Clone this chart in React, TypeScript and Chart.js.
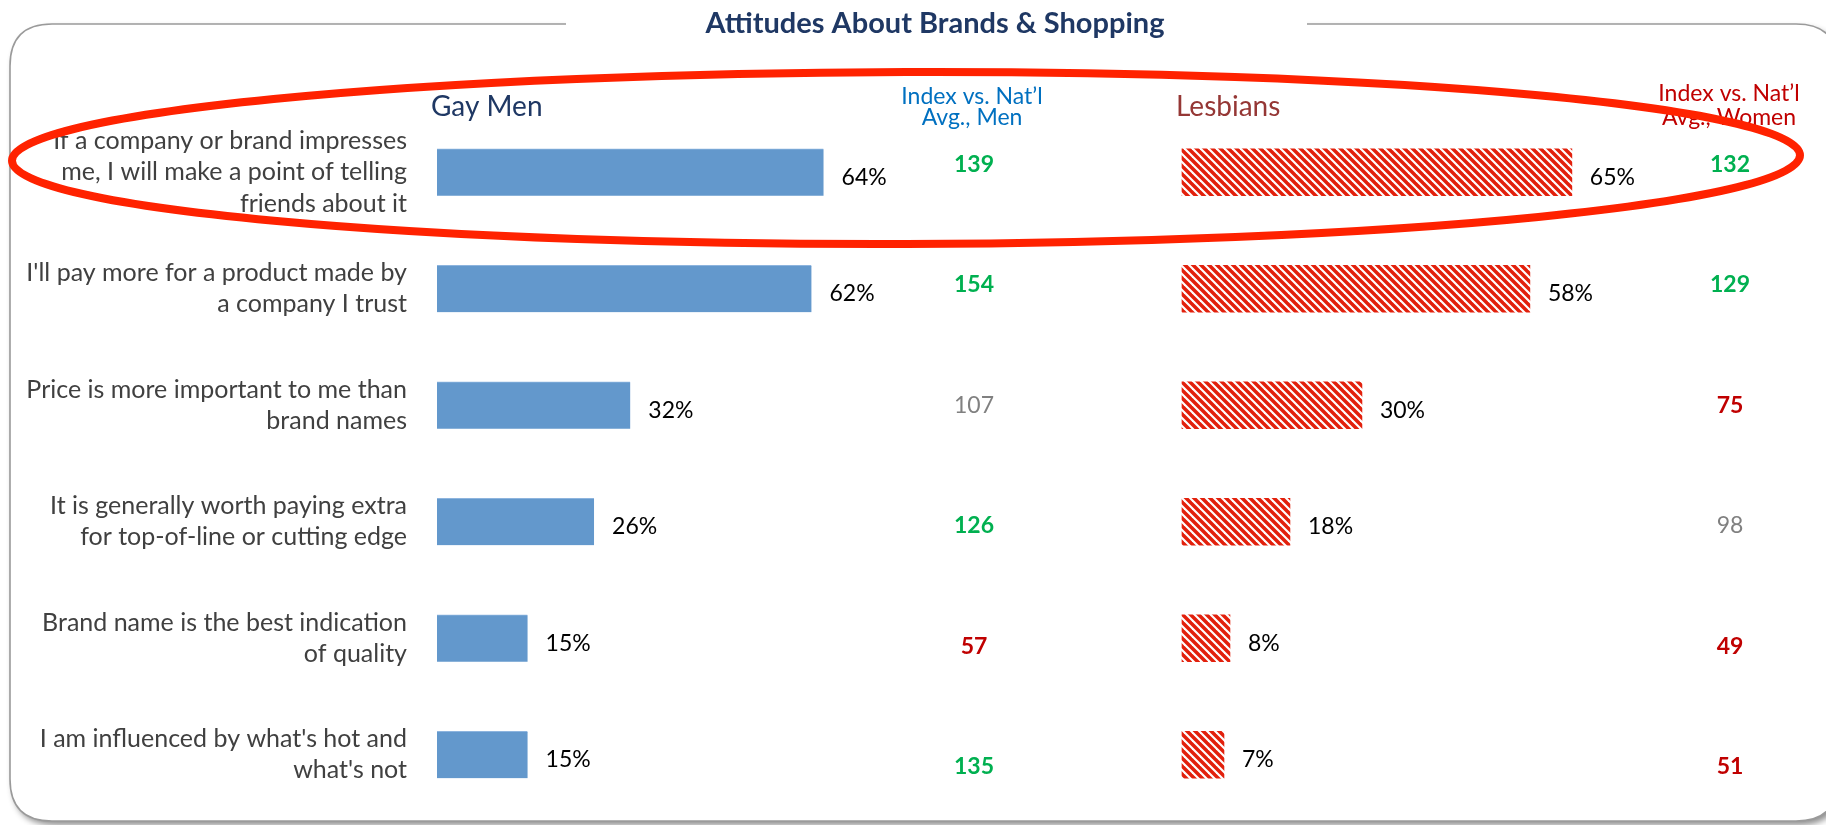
import React, { useEffect, useRef } from 'react';
import { Chart, registerables } from 'chart.js';
Chart.register(...registerables);

const categories: string[][] = [
  ['If a company or brand impresses', 'me, I will make a point of telling', 'friends about it'],
  ["I'll pay more for a product made by", 'a company I trust'],
  ['Price is more important to me than', 'brand names'],
  ['It is generally worth paying extra', 'for top-of-line or cutting edge'],
  ['Brand name is the best indication', 'of quality'],
  ["I am influenced by what's hot and", "what's not"],
];
const gayMenPct = [64, 62, 32, 26, 15, 15];
const lesbiansPct = [65, 58, 30, 18, 8, 7];
const menIndex = [139, 154, 107, 126, 57, 135];
const womenIndex = [132, 129, 75, 98, 49, 51];
const titleText = 'Attitudes About Brands & Shopping';
const menHeader = 'Gay Men';
const womenHeader = 'Lesbians';
const menIndexHeader = ['Index vs. Nat\u2019l', 'Avg., Men'];
const womenIndexHeader = ['Index vs. Nat\u2019l', 'Avg., Women'];

const FONT = 'Lato, "Open Sans", sans-serif';
const W = 1826;
const H = 825;

function indexColor(v: number): string {
  if (v >= 115) return '#00B050';
  if (v <= 85) return '#C00000';
  return '#808080';
}

function makeStripePattern(ctx: CanvasRenderingContext2D): CanvasPattern | string {
  const c = document.createElement('canvas');
  c.width = 8;
  c.height = 8;
  const p = c.getContext('2d');
  if (!p) return '#E2200C';
  p.fillStyle = '#ffffff';
  p.fillRect(0, 0, 8, 8);
  p.strokeStyle = '#E2200C';
  p.lineWidth = 3.5;
  for (const k of [-8, 0, 8]) {
    p.beginPath();
    p.moveTo(k - 2, -2);
    p.lineTo(k + 10, 10);
    p.stroke();
  }
  return ctx.createPattern(c, 'repeat') || '#E2200C';
}

function roundRectPath(ctx: CanvasRenderingContext2D, x: number, y: number, w: number, h: number, r: number) {
  ctx.beginPath();
  ctx.moveTo(x + r, y);
  ctx.lineTo(x + w - r, y);
  ctx.quadraticCurveTo(x + w, y, x + w, y + r);
  ctx.lineTo(x + w, y + h - r);
  ctx.quadraticCurveTo(x + w, y + h, x + w - r, y + h);
  ctx.lineTo(x + r, y + h);
  ctx.quadraticCurveTo(x, y + h, x, y + h - r);
  ctx.lineTo(x, y + r);
  ctx.quadraticCurveTo(x, y, x + r, y);
  ctx.closePath();
}

const decorPlugin = {
  id: 'decor',
  beforeDraw(chart: any) {
    const ctx: CanvasRenderingContext2D = chart.ctx;
    ctx.save();
    ctx.fillStyle = '#ffffff';
    ctx.fillRect(0, 0, W, H);
    ctx.save();
    ctx.shadowColor = 'rgba(0,0,0,0.45)';
    ctx.shadowBlur = 6;
    ctx.shadowOffsetX = 3;
    ctx.shadowOffsetY = 4;
    roundRectPath(ctx, 10, 24, 1828, 797, 42);
    ctx.fillStyle = '#ffffff';
    ctx.fill();
    ctx.restore();
    roundRectPath(ctx, 10, 24, 1828, 797, 42);
    ctx.strokeStyle = '#9a9a9a';
    ctx.lineWidth = 1.6;
    ctx.stroke();
    ctx.fillStyle = '#ffffff';
    ctx.fillRect(566, 16, 741, 14);
    ctx.fillStyle = '#1F3864';
    ctx.font = `bold 29px ${FONT}`;
    ctx.textAlign = 'center';
    ctx.textBaseline = 'middle';
    ctx.fillText(titleText, 935, 24);
    ctx.restore();
  },
  afterDatasetsDraw(chart: any) {
    const ctx: CanvasRenderingContext2D = chart.ctx;
    const yScale = chart.scales.y;
    ctx.save();
    ctx.fillStyle = '#000000';
    ctx.font = `23px ${FONT}`;
    ctx.textAlign = 'left';
    ctx.textBaseline = 'middle';
    [gayMenPct, lesbiansPct].forEach((vals, di) => {
      const meta = chart.getDatasetMeta(di);
      meta.data.forEach((bar: any, i: number) => {
        ctx.fillText(`${vals[i]}%`, bar.x + 18, bar.y + 5);
      });
    });
    const yRef = yScale.getPixelForValue(2);
    const cols: [number[], number][] = [
      [menIndex, 974],
      [womenIndex, 1730],
    ];
    ctx.textAlign = 'center';
    cols.forEach(([vals, x]) => {
      vals.forEach((v, i) => {
        const yc = yScale.getPixelForValue(i);
        const y = yRef + (yc - yRef) * 1.035;
        const col = indexColor(v);
        ctx.fillStyle = col;
        ctx.font = col === '#808080' ? `23px ${FONT}` : `bold 23px ${FONT}`;
        ctx.fillText(String(v), x, y);
      });
    });
    ctx.textAlign = 'left';
    ctx.font = `28px ${FONT}`;
    ctx.fillStyle = '#1F3864';
    ctx.fillText(menHeader, 431, 107);
    ctx.fillStyle = '#953735';
    ctx.fillText(womenHeader, 1176, 107);
    ctx.textAlign = 'center';
    ctx.font = `23px ${FONT}`;
    ctx.fillStyle = '#0070C0';
    ctx.fillText(menIndexHeader[0], 972, 97);
    ctx.fillText(menIndexHeader[1], 972, 118);
    ctx.fillStyle = '#C00000';
    ctx.fillText(womenIndexHeader[0], 1729, 94);
    ctx.fillText(womenIndexHeader[1], 1729, 118);
    ctx.restore();
  },
  afterDraw(chart: any) {
    const ctx: CanvasRenderingContext2D = chart.ctx;
    ctx.save();
    ctx.beginPath();
    ctx.ellipse(906, 158, 894, 86, -0.003, 0, Math.PI * 2);
    ctx.strokeStyle = '#FF2200';
    ctx.lineWidth = 8;
    ctx.stroke();
    ctx.restore();
  },
};

export default function App() {
  const ref = useRef<HTMLCanvasElement | null>(null);
  useEffect(() => {
    document.body.style.margin = '0';
    const canvas = ref.current;
    if (!canvas) return;
    const ctx = canvas.getContext('2d');
    if (!ctx) return;
    const pattern = makeStripePattern(ctx);
    const chart = new Chart(ctx, {
      type: 'bar',
      data: {
        labels: categories as any,
        datasets: [
          {
            label: menHeader,
            data: gayMenPct,
            backgroundColor: '#6398CC',
            borderColor: '#8DB4DE',
            borderWidth: { top: 1, left: 0, right: 0, bottom: 0 } as any,
            xAxisID: 'x',
            grouped: false,
            barThickness: 47,
          } as any,
          {
            label: womenHeader,
            data: lesbiansPct,
            backgroundColor: pattern as any,
            borderWidth: 0,
            xAxisID: 'x2',
            grouped: false,
            barThickness: 47,
          } as any,
        ],
      },
      options: {
        indexAxis: 'y',
        animation: false,
        responsive: false,
        maintainAspectRatio: false,
        layout: { padding: { top: 114, bottom: 12, left: 0, right: 10 } },
        plugins: {
          legend: { display: false },
          tooltip: { enabled: false },
          title: { display: false },
        },
        scales: {
          x: { type: 'linear', display: false, min: 0, max: 228.3 },
          x2: { type: 'linear', display: false, min: -124.2, max: 105.7 },
          y: {
            type: 'category',
            offset: true,
            grid: { display: false },
            border: { display: false },
            ticks: {
              autoSkip: false,
              color: '#404040',
              padding: 22,
              font: { family: FONT, size: 25, lineHeight: 1.25 },
            },
            afterFit: (s: any) => {
              s.width = 437;
              s.paddingTop = 0;
              s.paddingBottom = 0;
            },
          },
        },
      } as any,
      plugins: [decorPlugin],
    });
    return () => chart.destroy();
  }, []);
  return (
    <div style={{ position: 'absolute', left: 0, top: 0, width: W, height: H }}>
      <canvas ref={ref} width={W} height={H} style={{ display: 'block', width: W, height: H }} />
    </div>
  );
}
